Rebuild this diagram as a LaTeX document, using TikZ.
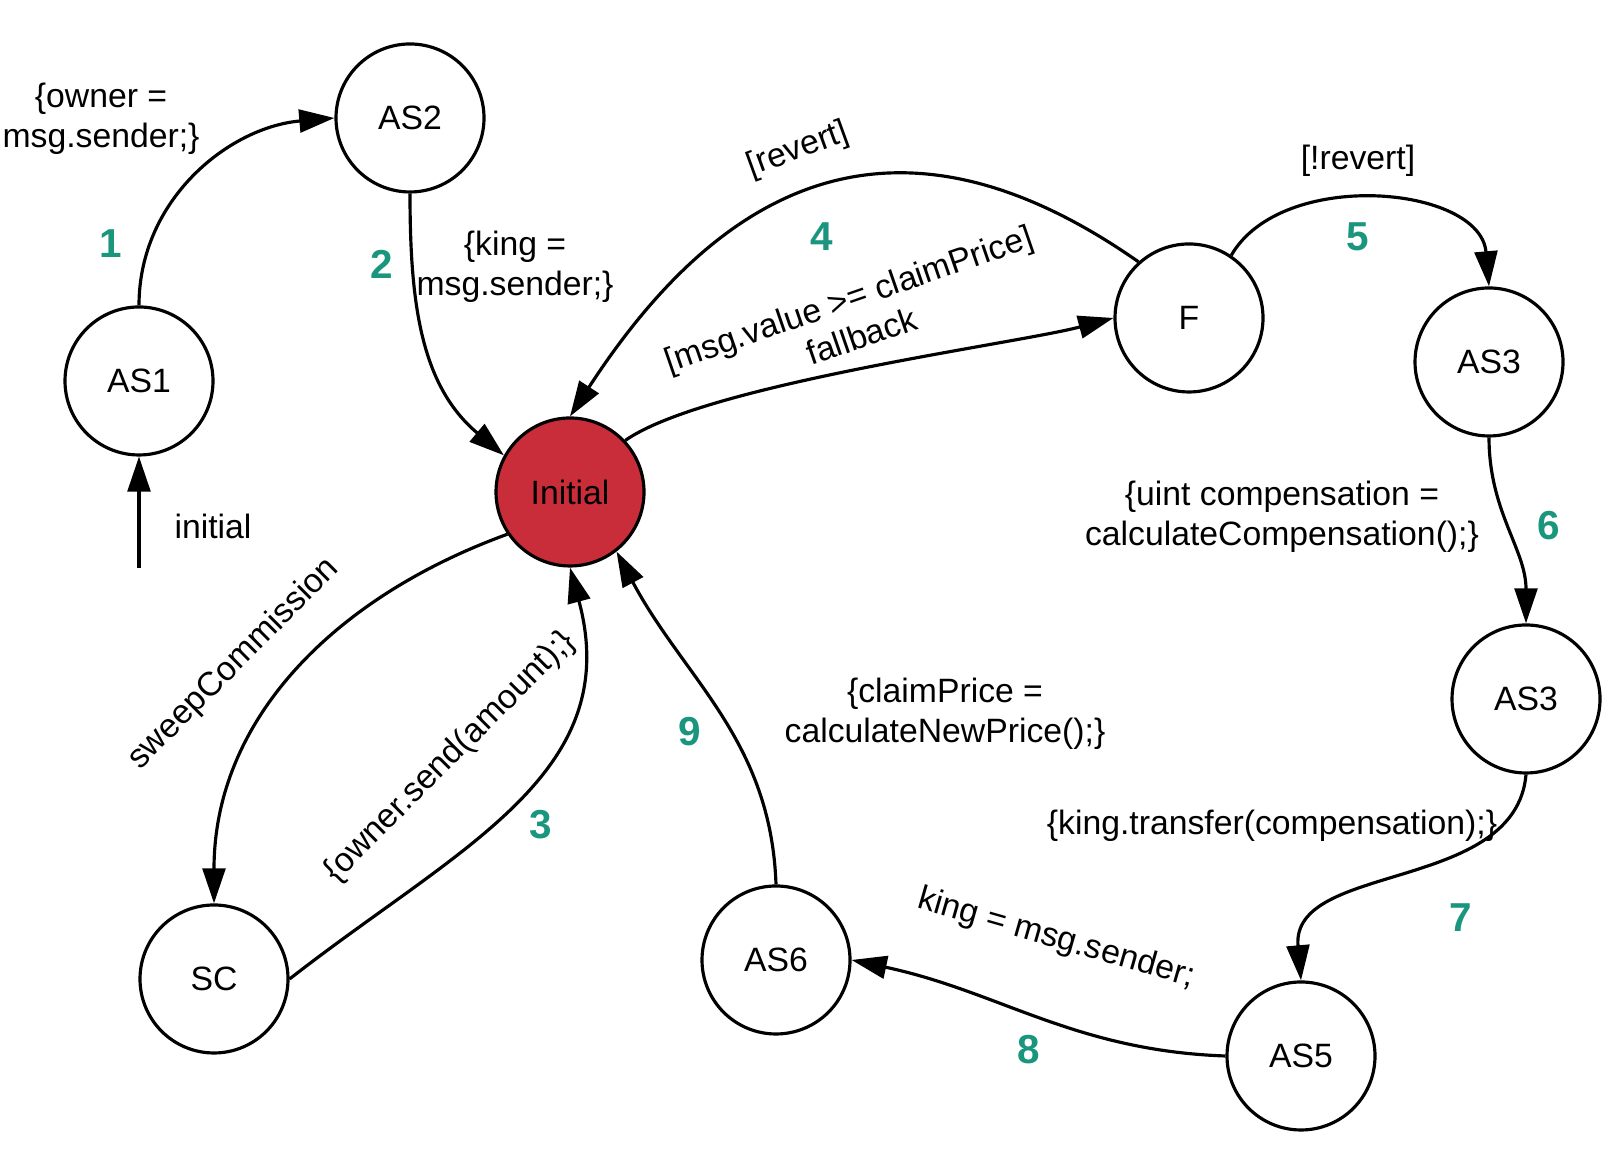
\documentclass[tikz,border=0pt]{standalone}
\usepackage{fontspec}
\setmainfont{Liberation Sans}
\usetikzlibrary{arrows.meta}

\definecolor{initred}{RGB}{201,45,57}
\definecolor{stepgreen}{RGB}{25,150,125}

\begin{document}
\begin{tikzpicture}[
  line width=0.9pt,
  >={Triangle[length=10pt,width=6.5pt]},
  state/.style={circle, draw, minimum size=1.48cm, inner sep=0pt, font=\fontsize{9.6}{11.4}\selectfont},
  lbl/.style={font=\fontsize{9.6}{11.4}\selectfont, align=center, inner sep=0pt},
  num/.style={font=\fontsize{11.5}{12}\selectfont\bfseries, text=stepgreen, inner sep=0pt}
]
\fill[white] (0,0) rectangle (16.11,11.53);
\useasboundingbox (0,0) rectangle (16.11,11.53);

% states
\node[state] (as1) at (1.39,7.72) {AS1};
\node[state] (as2) at (4.10,10.35) {AS2};
\node[state, fill=initred] (init) at (5.70,6.61) {Initial};
\node[state] (f) at (11.89,8.35) {F};
\node[state] (as3a) at (14.89,7.91) {AS3};
\node[state] (as3b) at (15.26,4.54) {AS3};
\node[state] (as5) at (13.01,0.97) {AS5};
\node[state] (as6) at (7.76,1.93) {AS6};
\node[state] (sc) at (2.14,1.74) {SC};
\coordinate (start) at (1.39,5.85);

% transitions
\draw[->] (start) -- (as1.south);
\draw[->] (as1.north) to[out=90,in=185] (as2.west);
\draw[->] (as2.south) to[out=-90,in=140] (init.151);
\draw[->] (sc.east) to[out=38,in=-75,looseness=1.1] (init.south);
\draw[->] (f.132) to[out=145,in=57,looseness=1.25] (init.north);
\draw[->] (init.43) to[out=35,in=195,looseness=0.5] (f.west);
\draw[->] (f.56) to[out=60,in=95] (as3a.north);
\draw[->] (as3a.south) to[out=-90,in=90] (as3b.north);
\draw[->] (as3b.south) to[out=-95,in=95] (as5.north);
\draw[->] (as5.west) to[out=178,in=-12] (as6.east);
\draw[->] (as6.north) to[out=92,in=-62] (init.-52);
\draw[->] (init.214) to[out=200,in=90] (sc.north);

% labels
\node[lbl] (linit) at (2.13,6.27) {initial};
\node[lbl] (lowner) at (1.01,10.34) {\{owner =\\msg.sender;\}};
\node[lbl] (lking) at (5.15,8.86) {\{king =\\msg.sender;\}};
\node[lbl, rotate=20] (lrevert) at (7.98,10.03) {[revert]};
\node[lbl, rotate=19] (lfallback) at (8.55,8.36) {[msg.value >= claimPrice]\\fallback};
\node[lbl] (lnotrevert) at (13.58,9.92) {[!revert]};
\node[lbl] (lcomp) at (12.82,6.36) {\{uint compensation =\\calculateCompensation();\}};
\node[lbl] (lprice) at (9.45,4.39) {\{claimPrice =\\calculateNewPrice();\}};
\node[lbl, rotate=45] (lsweep) at (2.34,4.89) {sweepCommission};
\node[lbl, rotate=45] (lsend) at (4.50,3.96) {\{owner.send(amount);\}};
\node[lbl] (ltransfer) at (12.72,3.27) {\{king.transfer(compensation);\}};
\node[lbl, rotate=-16] (lnewking) at (10.56,2.14) {king = msg.sender;};

% step numbers
\node[num] (n1) at (1.11,9.09) {1};
\node[num] (n2) at (3.82,8.89) {2};
\node[num] (n3) at (5.41,3.28) {3};
\node[num] (n4) at (8.22,9.16) {4};
\node[num] (n5) at (13.58,9.16) {5};
\node[num] (n6) at (15.49,6.27) {6};
\node[num] (n7) at (14.61,2.35) {7};
\node[num] (n8) at (10.29,1.03) {8};
\node[num] (n9) at (6.90,4.21) {9};
\end{tikzpicture}
\end{document}
